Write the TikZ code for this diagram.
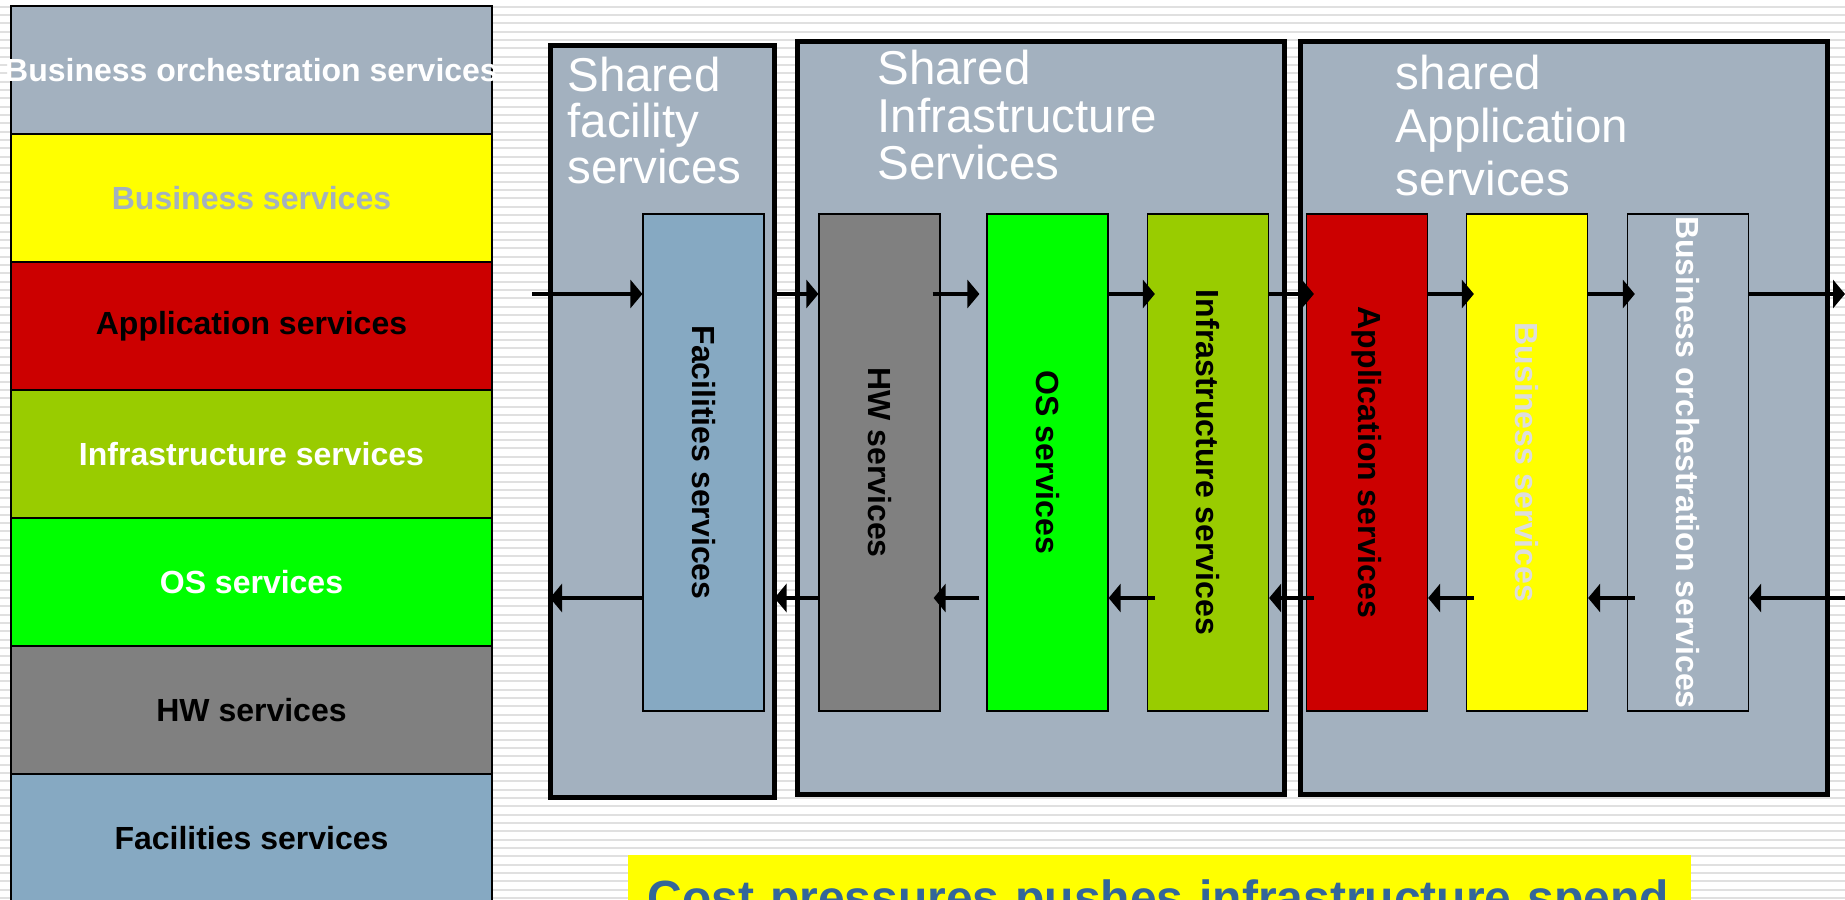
\documentclass[tikz,border=0pt]{standalone}
\usepackage{fontspec}
\setmainfont{Liberation Sans}
\usetikzlibrary{arrows.meta,positioning}

\definecolor{grisbleu}{RGB}{163,177,191}
\definecolor{bleufac}{RGB}{134,169,194}
\definecolor{rouge}{RGB}{204,0,0}
\definecolor{vertclair}{RGB}{153,204,0}
\definecolor{vertvif}{RGB}{0,255,0}
\definecolor{gris}{RGB}{128,128,128}
\definecolor{jaune}{RGB}{255,255,0}
\definecolor{grisclair}{RGB}{221,221,221}
\definecolor{textebleu}{RGB}{51,102,153}
\definecolor{rayurecoul}{RGB}{224,224,224}

\tikzset{
  rayure/.style={draw=rayurecoul, line width=1pt},
  couche/.style={draw=black, line width=0.7pt, minimum width=240.5pt, minimum height=64pt, inner sep=0pt},
  grandbloc/.style={draw=black, line width=2.5pt, fill=grisbleu, inner sep=0pt, outer sep=0pt},
  colonne/.style={draw=black, line width=0.6pt, minimum width=60.5pt, minimum height=248.5pt, inner sep=0pt},
  etiquette/.style={inner sep=0pt, font=\fontsize{16}{19}\selectfont\bfseries},
  titre/.style={text=white, align=left, inner sep=0pt, font=\fontsize{23.75}{23}\selectfont},
  fleche/.style={line width=2pt, -{Triangle[length=6pt,width=14pt]}},
}

\begin{document}
\begin{tikzpicture}[x=0.5pt, y=-0.5pt]
    % Cadre et fond raye
    \useasboundingbox (0,0) rectangle (1845,899);
    \clip (0,0) rectangle (1845,899);
    \fill[white] (0,0) rectangle (1845,899);
    \foreach \k in {0,...,107}
        \draw[rayure] (0,{6.7+8.33*\k}) -- (1845,{6.7+8.33*\k});

    % Pile des services a gauche
    \foreach \txt/\fond/\coul [count=\i from 0] in {Business orchestration services/grisbleu/white,
        Business services/jaune/grisbleu, Application services/rouge/black,
        Infrastructure services/vertclair/white, OS services/vertvif/white,
        HW services/gris/black, Facilities services/bleufac/black}
    {
        \node[couche, fill=\fond] (g\i) at (251.5,{70+128*\i}) {};
        \node[etiquette, text=\coul] (g\i-txt) at (g\i.center) {\txt};
    }

    % Les trois grands blocs partages
    \node[grandbloc, minimum width=112.25pt, minimum height=375.75pt] (facbox) at (662.25,421.75) {};
    \node[grandbloc, minimum width=243.25pt, minimum height=376pt] (infrabox) at (1040.75,418) {};
    \node[grandbloc, minimum width=263.75pt, minimum height=376pt] (appbox) at (1563.75,418) {};

    % Titres des blocs
    \node[titre, below right=5.5pt and 8.5pt of facbox.north west] (tfac) {Shared\\facility\\services};
    \node[titre, font=\fontsize{23.75}{23.75}\selectfont, below right=4pt and 39.75pt of infrabox.north west] (tinfra) {Shared\\Infrastructure\\Services};
    \node[titre, font=\fontsize{23.75}{26.5}\selectfont, below right=6.5pt and 47.75pt of appbox.north west] (tapp) {shared\\Application\\services};

    % Colonnes verticales
    \foreach \nom/\x/\fond/\coul/\txt in {fac/703.5/bleufac/black/Facilities services,
        hw/879.5/gris/black/HW services, os/1047.5/vertvif/black/OS services,
        infra/1208/vertclair/black/Infrastructure services, app/1367/rouge/black/Application services,
        bus/1527/jaune/grisclair/Business services, orch/1688/grisbleu/white/Business orchestration services}
    {
        \node[colonne, fill=\fond] (\nom) at (\x,462.5) {};
        \node[etiquette, rotate=-90, text=\coul] (\nom-txt) at (\nom.center) {\txt};
    }

    % Fleches vers la droite (en haut)
    \coordinate (haut) at (0,294);
    \coordinate (bas) at (0,598);
    \coordinate (entree) at (532,294);
    \coordinate (sortie) at (1845,294);
    \coordinate (retour) at (1845,598);
    \draw[fleche] (entree) -- (fac.west |- haut);
    \draw[fleche] (facbox.east |- haut) -- (hw.west |- haut);
    \draw[fleche] ([xshift=-4pt]hw.east |- haut) -- ([xshift=-3.5pt]os.west |- haut);
    \foreach \a/\b in {os/infra, infra/app, app/bus, bus/orch}
        \draw[fleche] (\a.east |- haut) -- ([xshift=4pt]\b.west |- haut);
    \draw[fleche] (orch.east |- haut) -- (sortie);

    % Fleches vers la gauche (en bas)
    \draw[fleche] (fac.west |- bas) -- (facbox.west |- bas);
    \draw[fleche] (hw.west |- bas) -- (facbox.east |- bas);
    \draw[fleche] ([xshift=-3.5pt]os.west |- bas) -- ([xshift=-3.5pt]hw.east |- bas);
    \foreach \a/\b in {os/infra, infra/app, app/bus, bus/orch}
        \draw[fleche] ([xshift=4pt]\b.west |- bas) -- (\a.east |- bas);
    \draw[fleche] (retour) -- (orch.east |- bas);

    % Encadre jaune en bas
    \node[fill=jaune, anchor=north west, inner xsep=9.5pt, inner ysep=12pt, text width=512.5pt,
        align=left, text=textebleu, font=\fontsize{24}{29}\selectfont\bfseries] (cout) at (628,855)
        {Cost pressures pushes infrastructure spend};
\end{tikzpicture}
\end{document}
